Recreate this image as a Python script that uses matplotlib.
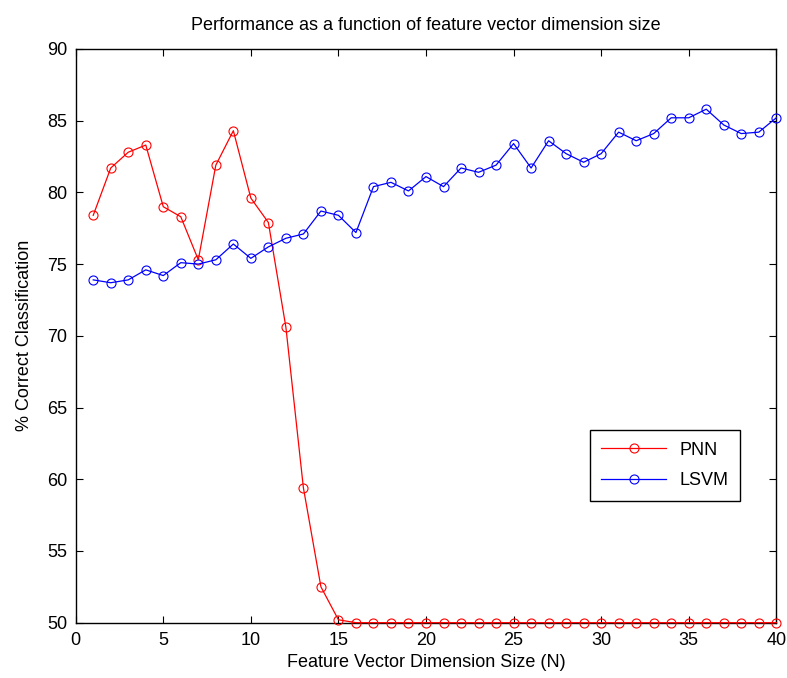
import matplotlib
matplotlib.use('Agg')
import matplotlib.pyplot as plt

plt.rcParams['font.family'] = ['Liberation Sans', 'DejaVu Sans']

dims = list(range(1, 41))
pnn = [78.4, 81.7, 82.8, 83.3, 79.0, 78.3, 75.3, 81.9, 84.3, 79.6,
       77.9, 70.6, 59.4, 52.5, 50.2] + [50.0] * 25
lsvm = [73.9, 73.7, 73.9, 74.6, 74.2, 75.1, 75.0, 75.3, 76.4, 75.4,
        76.2, 76.8, 77.1, 78.7, 78.4, 77.2, 80.4, 80.7, 80.1, 81.1,
        80.4, 81.7, 81.4, 81.9, 83.4, 81.7, 83.6, 82.7, 82.1, 82.7,
        84.2, 83.6, 84.1, 85.2, 85.2, 85.8, 84.7, 84.1, 84.2, 85.2]
x_ticks = [0, 5, 10, 15, 20, 25, 30, 35, 40]
y_ticks = [50, 55, 60, 65, 70, 75, 80, 85, 90]


def main():
    fig = plt.figure(figsize=(7.87, 6.78), dpi=100)
    ax = fig.add_axes([0.0962, 0.0816, 0.8902, 0.8462])
    ax.plot(dims, pnn, color='#ff0000', lw=0.9, marker='o', ms=6.5,
            mfc='none', mew=0.8, label='PNN', clip_on=False, zorder=3)
    ax.plot(dims, lsvm, color='#0000ff', lw=0.9, marker='o', ms=6.5,
            mfc='none', mew=0.8, label='LSVM', clip_on=False, zorder=3)
    ax.set_xlim(0, 40)
    ax.set_ylim(50, 90)
    ax.set_xticks(x_ticks)
    ax.set_yticks(y_ticks)
    ax.tick_params(direction='in', top=True, right=True, length=5,
                   width=0.8, labelsize=13)
    ax.tick_params(axis='x', pad=7)
    ax.tick_params(axis='y', pad=6)
    for s in ax.spines.values():
        s.set_linewidth(1.0)
    ax.set_xlabel('Feature Vector Dimension Size (N)', fontsize=13, labelpad=3)
    ax.set_ylabel('% Correct Classification', fontsize=13, labelpad=10)
    ax.set_title('Performance as a function of feature vector dimension size',
                 fontsize=13, pad=14)
    leg = ax.legend(loc='lower right', bbox_to_anchor=(0.948, 0.212),
                    borderaxespad=0, fontsize=13, fancybox=False,
                    framealpha=1, edgecolor='black', handlelength=3.6,
                    borderpad=0.65, labelspacing=0.75, handletextpad=0.7)
    leg.get_frame().set_linewidth(1.0)
    fig.savefig('out.png', dpi=100)


if __name__ == '__main__':
    main()
